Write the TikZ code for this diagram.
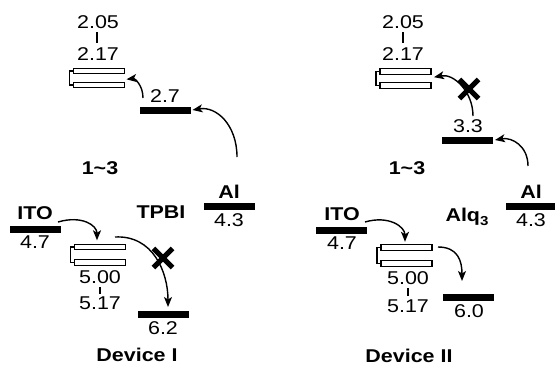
\documentclass[tikz,border=0pt]{standalone}
\usepackage{fontspec}
\newfontfamily\lab{Liberation Sans}[FakeStretch=1.16]
\usetikzlibrary{arrows.meta,shapes.misc}
\begin{document}
\begin{tikzpicture}[x=1pt,y=-1pt,
 hbar/.style={fill=black, draw=none, minimum width=51pt, minimum height=7pt, inner sep=0pt, outer sep=0pt},
 obar/.style={draw=black, line width=1.3pt, fill=white, minimum width=51pt, minimum height=5.4pt, inner sep=0pt, outer sep=0pt},
 num/.style={font=\lab\fontsize{18.5pt}{20pt}\selectfont, inner sep=0pt},
 bl/.style={font=\lab\bfseries\fontsize{18.5pt}{20pt}\selectfont, inner sep=0pt},
 arr/.style={line width=1.4pt, -{Stealth[length=10pt,width=8pt,inset=2.5pt]}},
 tick/.style={line width=1.2pt},
 brk/.style={line width=1.2pt},
 xmk/.style={draw, cross out, line width=5.2pt, minimum size=14pt, inner sep=0pt}
]
\useasboundingbox (0,0) rectangle (555,365);

% ================= Device I =================
\node[num] (a205) at (98,22) {2.05};
\coordinate (at1) at (97,32); \coordinate (at2) at (97,43);
\draw[tick] (at1) -- (at2);
\node[num] (a217) at (98,54) {2.17};
\node[obar] (aLt) at (99,71) {};
\node[obar] (aLb) at (99,85) {};
\draw[brk] ([xshift=-0.6pt]aLt.west) -- ++(-3.5,0) |- ([xshift=-0.6pt]aLb.west);
\node[num] (a27) at (165,96) {2.7};
\node[hbar] (b27) at (165,110) {};
\coordinate (s1) at (143,98);
\draw[arr] (s1) .. controls +(0,-13) and +(8,-1) .. ([xshift=2pt,yshift=3pt]aLb.north east);
\coordinate (s2) at (237,157);
\draw[arr] (s2) .. controls +(0,-32) and +(24,-4) .. ([xshift=2pt]b27.east);
\node[bl] (a13) at (100,168) {1\textasciitilde3};

\node[bl] (aAl) at (229,192) {Al};
\node[hbar] (aAlb) at (229,206) {};
\node[num] (a43) at (229,220) {4.3};
\node[bl] (aTP) at (161,212) {TPBI};

\node[bl] (aITO) at (35,213) {ITO};
\node[hbar] (aITOb) at (35,229) {};
\node[num] (a47) at (35,242) {4.7};
\node[obar] (aHt) at (100,247) {};
\node[obar] (aHb) at (100,262.5) {};
\draw[brk] ([xshift=-0.6pt]aHt.west) -- ++(-3.5,0) |- ([xshift=-0.6pt]aHb.west);
\coordinate (s3) at (58,222);
\draw[arr] (s3) .. controls +(24,-7) and +(0,-15) .. ([xshift=-3pt,yshift=4pt]aHt.north);
\node[num] (a500) at (100,277) {5.00};
\coordinate (at3) at (100,287); \coordinate (at4) at (100,294);
\draw[tick] (at3) -- (at4);
\node[num] (a517) at (100,303) {5.17};
\node[hbar] (b62) at (163,314.5) {};
\node[num] (a62) at (163,328) {6.2};
\coordinate (s4) at (115,237);
\draw[arr] (s4) .. controls +(38,-2) and +(0,-35) .. ([xshift=5pt,yshift=4pt]b62.north);
\node[xmk] (x1) at (163,258) {};
\node[bl] (dev1) at (137,355) {Device I};

% ================= Device II =================
\node[num] (b205) at (403,22) {2.05};
\coordinate (bt1) at (403,32); \coordinate (bt2) at (403,43);
\draw[tick] (bt1) -- (bt2);
\node[num] (b217) at (403,54) {2.17};
\node[obar] (bLt) at (405.5,71.5) {};
\node[obar] (bLb) at (405.5,85.5) {};
\draw[brk] ([xshift=-0.6pt]bLt.west) -- ++(-3.5,0) |- ([xshift=-0.6pt]bLb.west);
\node[num] (b33) at (468,126) {3.3};
\node[hbar] (b33b) at (467.5,140) {};
\coordinate (s5) at (473,116);
\draw[arr] (s5) .. controls +(0,-24) and +(20,-4) .. ([xshift=3pt,yshift=-3pt]bLt.south east);
\node[xmk] (x2) at (469,89) {};
\coordinate (s6) at (528,166);
\draw[arr] (s6) .. controls +(0,-20) and +(17,-3) .. ([xshift=2pt]b33b.east);
\node[bl] (b13) at (407,168) {1\textasciitilde3};

\node[bl] (bAl) at (531,192) {Al};
\node[hbar] (bAlb) at (531,206) {};
\node[num] (b43) at (531,220) {4.3};
\node[bl] (bAlq) at (467,217) {Alq\raisebox{-4pt}{\fontsize{13pt}{14pt}\selectfont 3}};

\node[bl] (bITO) at (342,214) {ITO};
\node[hbar] (bITOb) at (341.5,230) {};
\node[num] (b47) at (342,243) {4.7};
\node[obar] (bHt) at (406.5,247.5) {};
\node[obar] (bHb) at (406.5,263.5) {};
\draw[brk] ([xshift=-0.6pt]bHt.west) -- ++(-3.5,0) |- ([xshift=-0.6pt]bHb.west);
\coordinate (s7) at (365,222);
\draw[arr] (s7) .. controls +(24,-7) and +(0,-15) .. ([xshift=-1.5pt,yshift=3pt]bHt.north);
\node[num] (b500) at (408,278) {5.00};
\coordinate (bt3) at (408,288); \coordinate (bt4) at (408,296);
\draw[tick] (bt3) -- (bt4);
\node[num] (b517) at (408,306) {5.17};
\node[hbar] (b60) at (468,297.5) {};
\node[num] (b60t) at (469,311) {6.0};
\coordinate (s8) at (438,247);
\draw[arr] (s8) .. controls +(20,0) and +(0,-20) .. ([xshift=-6pt,yshift=13pt]b60.north);
\node[bl] (dev2) at (409,356) {Device II};
\end{tikzpicture}
\end{document}
